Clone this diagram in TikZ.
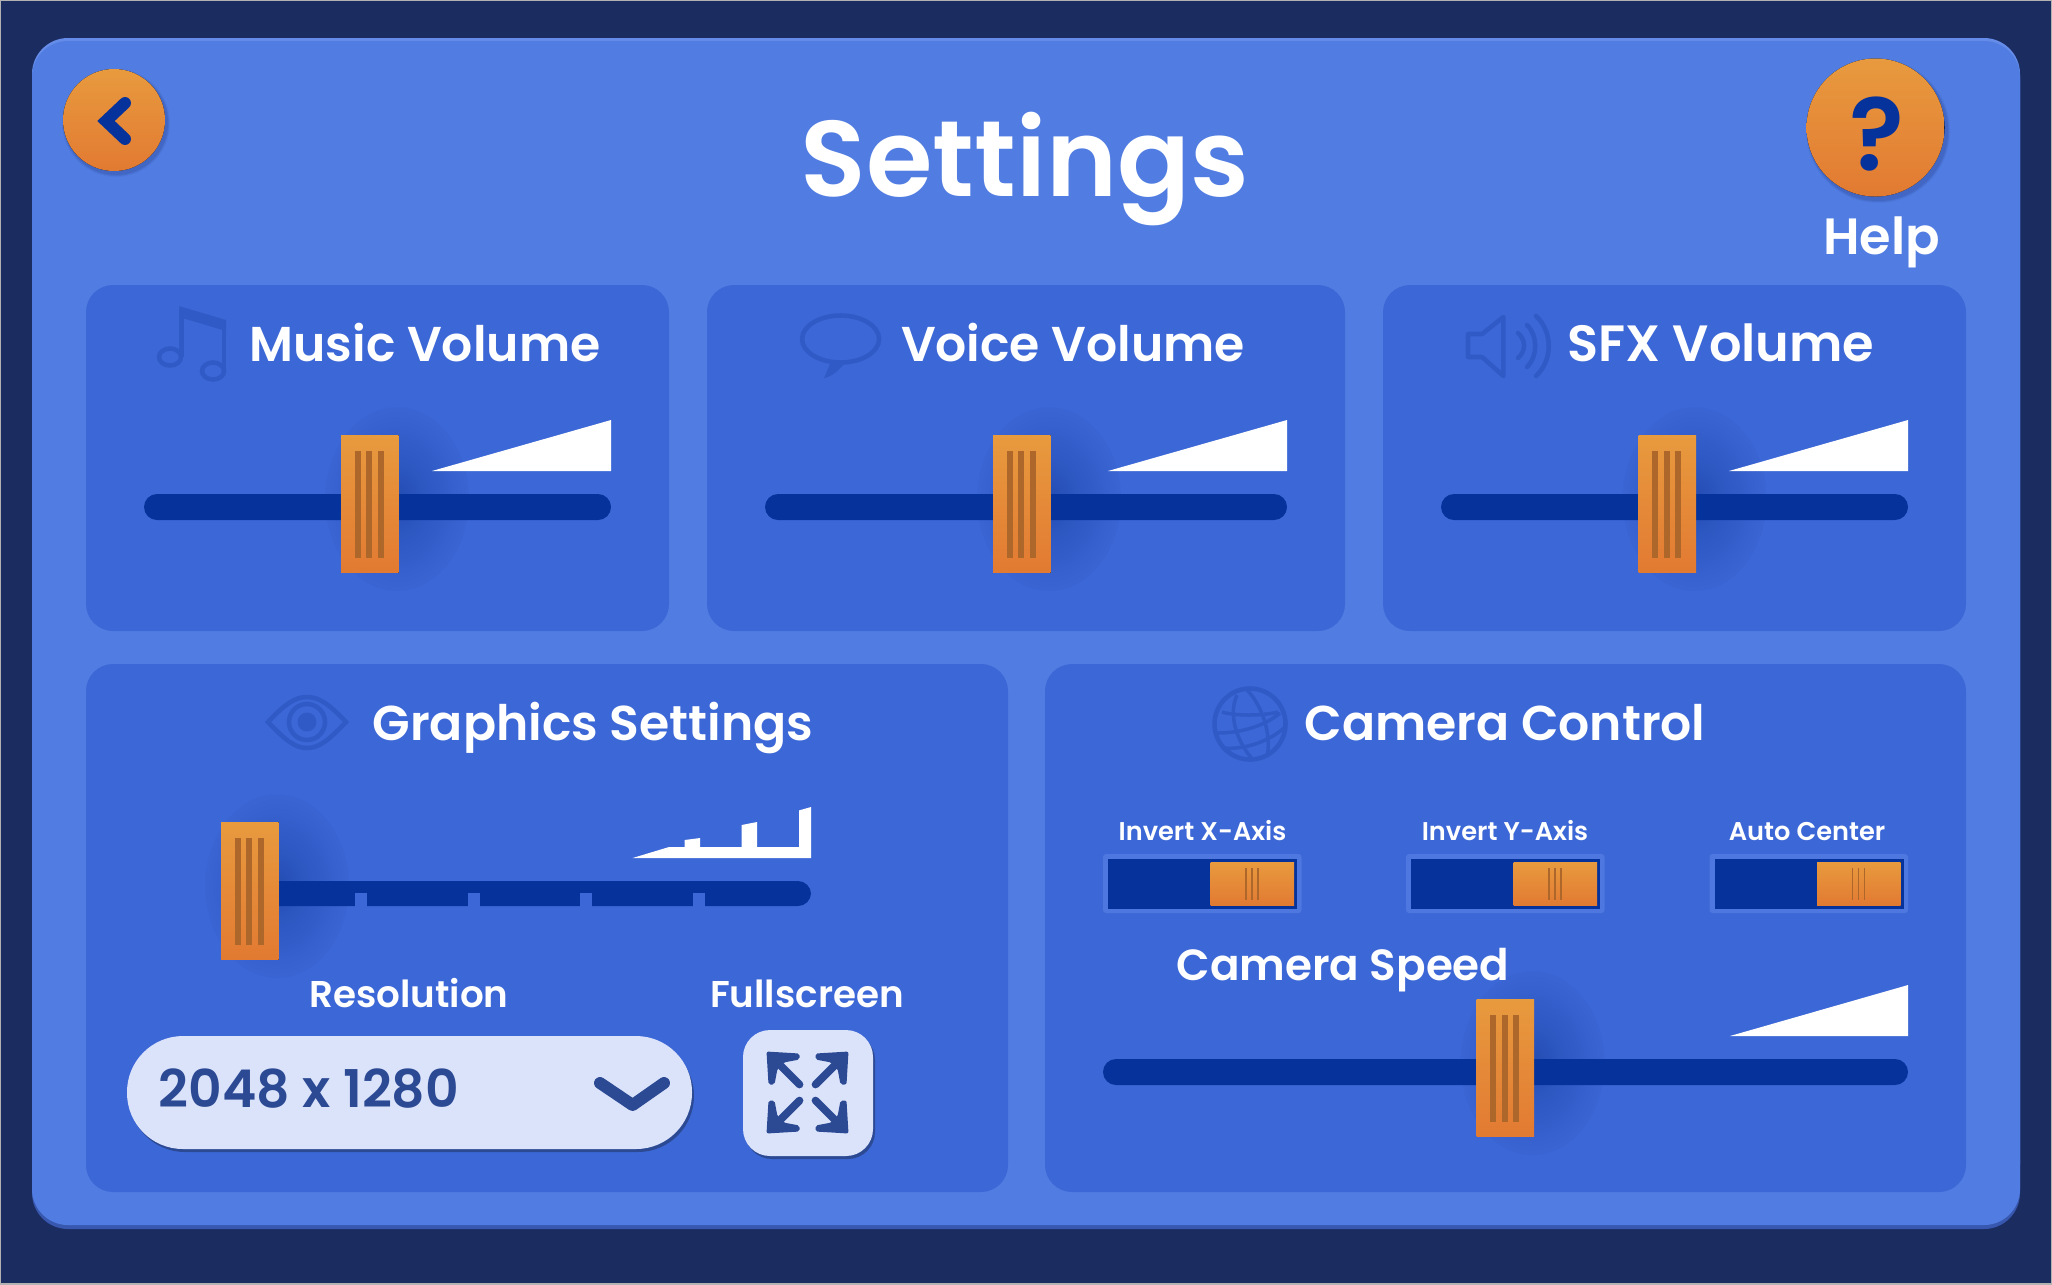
\documentclass[tikz,border=0pt]{standalone}
\usepackage{fontspec}
\setmainfont{Poppins}[BoldFont=*-SemiBold]
\usepackage{tikz}
\definecolor{navy}{RGB}{27, 44, 96}
\definecolor{shell}{RGB}{81, 125, 226}
\definecolor{shellhi}{RGB}{100, 140, 232}
\definecolor{shelldark}{RGB}{56, 88, 176}
\definecolor{panelblue}{RGB}{60, 103, 214}
\definecolor{trackblue}{RGB}{6, 50, 155}
\definecolor{glowblue}{RGB}{36, 76, 178}
\definecolor{glowmid}{RGB}{47, 90, 197}
\definecolor{iconblue}{RGB}{48, 90, 198}
\definecolor{rimblue}{RGB}{78, 120, 224}
\definecolor{orangetop}{RGB}{232, 154, 62}
\definecolor{orangelow}{RGB}{226, 122, 50}
\definecolor{grip}{RGB}{174, 103, 42}
\definecolor{pale}{RGB}{219, 227, 251}
\definecolor{inkblue}{RGB}{44, 74, 148}
\pgfdeclareradialshading{handleglow}{\pgfpointorigin}{color(0bp)=(glowblue); color(12bp)=(glowmid); color(28bp)=(panelblue); color(50bp)=(panelblue)}
\tikzset{
  panelbox/.style={fill=panelblue, rounded corners=0.27cm},
  orangefill/.style={top color=orangetop, bottom color=orangelow},
  iconline/.style={draw=iconblue, line width=1.3pt},
  bigtext/.style={anchor=base, inner sep=0, text=white, font=\bfseries\fontsize{30.6}{36}\selectfont},
  headtext/.style={anchor=base, inner sep=0, text=white, font=\bfseries\fontsize{13.9}{18}\selectfont},
  widetext/.style={anchor=base, inner sep=0, text=white, font=\bfseries\fontsize{14.5}{18}\selectfont},
  speedtext/.style={anchor=base, inner sep=0, text=white, font=\bfseries\fontsize{12.4}{16}\selectfont},
  midtext/.style={anchor=base, inner sep=0, text=white, font=\bfseries\fontsize{10.6}{14}\selectfont},
  smalltext/.style={anchor=base, inner sep=0, text=white, font=\bfseries\fontsize{7.3}{10}\selectfont}
}

\begin{document}
\begin{tikzpicture}[x=0.01cm, y=-0.01cm]
  \useasboundingbox (0, 0) rectangle (2052, 1284);
  \fill[navy] (0, 0) rectangle (2052, 1284);
  \draw[gray!60, line width=0.5pt] (0, 0) rectangle (2052, 1284);

  % outer shell
  \fill[shelldark, rounded corners=0.36cm] (32, 44) rectangle (2020, 1229);
  \fill[shellhi, rounded corners=0.36cm] (32, 38) rectangle (2020, 1200);
  \fill[shell, rounded corners=0.36cm] (32, 41) rectangle (2020, 1225);

  \fill[panelbox] (86, 285) rectangle (669, 631);
  \fill[panelbox] (707, 285) rectangle (1345, 631);
  \fill[panelbox] (1383, 285) rectangle (1966, 631);
  \fill[panelbox] (86, 664) rectangle (1008, 1192);
  \fill[panelbox] (1045, 664) rectangle (1966, 1192);

  % glow behind the handles
  \foreach \hx/\hy in {341/435, 993/435, 1638.5/435, 221/822, 1476.5/999} {
    \shade[shading=handleglow] (\hx + 56, \hy + 64) ellipse (72 and 92);
  }

  % tracks and wedges
  \foreach \l/\u/\t/\w in {144/611/494/432, 765/1287/494/1108, 1441/1908/494/1729, 1103/1908/1059/1730} {
    \fill[trackblue, rounded corners=0.13cm] (\l, \t) rectangle (\u, \t + 26);
    \fill[white] (\w, \t - 23) -- (\u, \t - 23) -- (\u, \t - 74) -- cycle;
  }
  \fill[trackblue, rounded corners=0.13cm] (240, 881) rectangle (811, 906);
  \foreach \n in {355, 468, 580, 693} {
    \fill[panelblue] (\n, 893) rectangle (\n + 12, 906.5);
  }
  \fill[white] (632.6, 858) -- (669, 847) -- (684.6, 847) -- (684.6, 840) -- (700, 838) -- (700, 847)
    -- (741.6, 847) -- (741.6, 825) -- (757, 822) -- (757, 847) -- (799, 847) -- (799, 810.4)
    -- (811, 807) -- (811, 858) -- cycle;

  % handles
  \foreach \hx/\hy in {341/435, 993/435, 1638.5/435, 221/822, 1476.5/999} {
    \fill[orangefill] (\hx, \hy) rectangle (\hx + 57.5, \hy + 137.5);
    \foreach \g in {13.5, 25, 36.5} {
      \fill[grip] (\hx + \g, \hy + 16) rectangle (\hx + \g + 6, \hy + 123);
    }
  }

  % toggles
  \foreach \tx in {1103, 1406, 1709.5} {
    \fill[rimblue, rounded corners=0.03cm] (\tx, 854) rectangle (\tx + 198.5, 913);
    \fill[trackblue] (\tx + 5, 859) rectangle (\tx + 194, 909);
    \fill[orangefill] (\tx + 107.5, 862) rectangle (\tx + 191, 905);
    \foreach \g in {143, 149, 155} {
      \draw[grip, line width=0.5pt] (\tx + \g, 868) -- (\tx + \g, 900);
    }
  }

  % round buttons
  \foreach \r/\o in {54/0.15, 53/0.25, 52/0.35} {
    \fill[shelldark, opacity=\o] (116, 123) circle (\r);
    \fill[shelldark, opacity=\o] (1878, 131) circle (\r + 18);
  }
  \fill[orangefill] (114, 120) circle (51);
  \draw[trackblue, line width=3.4pt, line cap=round] (125, 103) -- (106, 121) -- (125, 139);
  \fill[orangefill] (1875.5, 127.5) circle (69);

  % icons
  \fill[iconblue] (179, 306) -- (226, 320) -- (226, 331) -- (184, 318.5) -- cycle;
  \draw[iconline] (181.5, 308) -- (181.5, 357);
  \draw[iconline] (224, 322) -- (224, 371);
  \draw[iconline] (170, 357) ellipse (11 and 8.5);
  \draw[iconline] (213, 371) ellipse (11 and 8.5);
  \draw[iconline] (840.6, 339) ellipse (38.5 and 23.5);
  \fill[iconblue] (830, 364) -- (824, 378) .. controls (833, 376) and (838, 371) .. (844, 364) -- cycle;
  \draw[iconline, line join=round] (1468, 334) -- (1468, 357) -- (1482, 357) -- (1503.4, 376)
    -- (1503.4, 317) -- (1482, 334) -- cycle;
  \draw[iconline, line cap=round] (1518, 333) .. controls (1526, 340) and (1526, 351) .. (1518, 358);
  \draw[iconline, line cap=round] (1527, 325) .. controls (1538, 336) and (1538, 356) .. (1527, 367);
  \draw[iconline, line cap=round] (1536, 316) .. controls (1553, 332) and (1553, 360) .. (1536, 376);
  \draw[iconline] (268, 722) .. controls (285, 704) and (295, 697) .. (307, 697)
    .. controls (319, 697) and (329, 704) .. (346, 722)
    .. controls (329, 740) and (319, 748) .. (307, 748)
    .. controls (295, 748) and (285, 740) .. (268, 722) -- cycle;
  \draw[iconline] (307, 722) circle (18);
  \fill[iconblue] (307, 722) circle (9.5);
  \draw[iconline] (1250, 724) circle (35.5);
  \draw[iconline, line width=1pt] (1237, 695) .. controls (1229, 712) and (1234, 738) .. (1253, 760);
  \draw[iconline, line width=1pt] (1247, 690) .. controls (1262, 705) and (1272, 735) .. (1267, 757);
  \draw[iconline, line width=1pt] (1218, 733) .. controls (1240, 733) and (1265, 726) .. (1280, 713);
  \draw[iconline, line width=1pt] (1223, 748) .. controls (1245, 750) and (1270, 741) .. (1285, 727);
  \draw[iconline, line width=1pt] (1222, 712) .. controls (1235, 716) and (1262, 716) .. (1278, 712);

  % resolution box and fullscreen button
  \fill[inkblue] (129, 1040) [rounded corners=0.56cm] rectangle (694, 1152);
  \fill[pale, rounded corners=0.56cm] (127, 1036) rectangle (692, 1149);
  \draw[inkblue, line width=3.4pt, line cap=round, line join=round] (600, 1083) -- (632.6, 1105) -- (664, 1083);
  \fill[inkblue] (745, 1033) [rounded corners=0.27cm] rectangle (875, 1159);
  \fill[pale, rounded corners=0.27cm] (743, 1030) rectangle (873, 1156);
  \foreach \sx in {-1, 1} {
    \foreach \sy in {-1, 1} {
      \draw[inkblue, line width=2.2pt, line cap=round] (807.5 + \sx * 8, 1092.5 + \sy * 8)
        -- (807.5 + \sx * 36, 1092.5 + \sy * 36);
      \fill[inkblue, rounded corners=0.02cm] (807.5 + \sx * 41, 1092.5 + \sy * 41)
        -- (807.5 + \sx * 8, 1092.5 + \sy * 39) -- (807.5 + \sx * 8, 1092.5 + \sy * 33)
        -- (807.5 + \sx * 24, 1092.5 + \sy * 30) -- (807.5 + \sx * 30, 1092.5 + \sy * 24)
        -- (807.5 + \sx * 33, 1092.5 + \sy * 8) -- (807.5 + \sx * 39, 1092.5 + \sy * 8) -- cycle;
    }
  }

  % texts
  \node[bigtext] (title) at (1025, 196) {Settings};
  \node[anchor=base, inner sep=0, text=trackblue, font=\bfseries\fontsize{29}{32}\selectfont] (helpmark) at (1877, 170) {?};
  \node[widetext] (helplabel) at (1881.5, 254) {Help};
  \node[headtext] (musichead) at (425, 361) {Music Volume};
  \node[headtext] (voicehead) at (1073, 361) {Voice Volume};
  \node[widetext] (sfxhead) at (1721, 361) {SFX Volume};
  \node[headtext] (graphicshead) at (593, 740) {Graphics Settings};
  \node[headtext] (camerahead) at (1505, 740) {Camera Control};
  \node[speedtext] (speedhead) at (1343, 980) {Camera Speed};
  \node[midtext] (reslabel) at (409, 1007) {Resolution};
  \node[midtext] (fulllabel) at (807, 1007) {Fullscreen};
  \node[anchor=base, inner sep=0, text=inkblue, font=\bfseries\fontsize{14.8}{18}\selectfont] (resvalue) at (309, 1107) {2048 x 1280};
  \node[smalltext] (invertx) at (1202.5, 840) {Invert X-Axis};
  \node[smalltext] (inverty) at (1505, 840) {Invert Y-Axis};
  \node[smalltext] (autocenter) at (1807, 840) {Auto Center};
\end{tikzpicture}
\end{document}
